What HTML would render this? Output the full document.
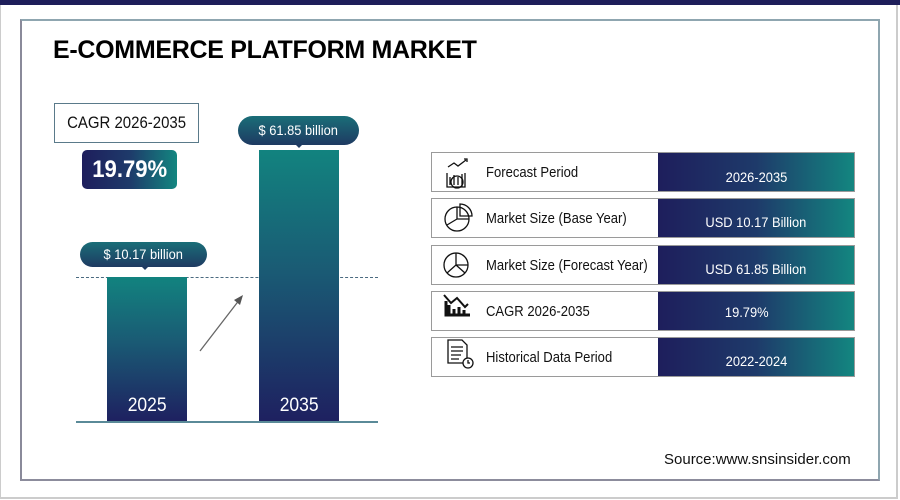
<!DOCTYPE html>
<html><head><meta charset="utf-8"><style>
*{margin:0;padding:0;box-sizing:border-box}
body{width:900px;height:500px;background:#fff;position:relative;overflow:hidden;font-family:"Liberation Sans",Arial,sans-serif}
.a{position:absolute}
.grad{background:linear-gradient(90deg,#1e1e5c 0%,#1e3a6a 50%,#138680 100%)}
.bar{background:linear-gradient(180deg,#12837f 0%,#1a5a74 45%,#1e2060 100%)}
.pill{border-radius:13px;background:linear-gradient(180deg,#1a6e78,#1e3a62);color:#fff;font-size:14px;text-align:center}
.row{position:absolute;left:431px;width:424px;height:40px;border:1.5px solid #9a9a9a;background:#fff}
.row .lab{position:absolute;left:54px;top:12px;font-size:14.5px;color:#111;transform:scaleX(0.9);transform-origin:0 0;white-space:nowrap}
.row .val{position:absolute;left:226px;top:0;right:0;bottom:0;color:#fff;font-size:14px;text-align:center;line-height:46px;transform-origin:center}
.c{display:inline-block;transform:scaleX(0.92)}
</style></head><body>
<div class="a" style="left:0;top:0;width:900px;height:5px;background:#1e1e5a"></div>
<div class="a" style="left:0;top:5px;width:898px;height:494px;border-left:1px solid #ccc;border-right:2px solid #ccc;border-bottom:2px solid #ccc"></div>
<div class="a" style="left:20px;top:19px;width:860px;height:462px;border:2px solid #8fa6b0;border-left-color:#8a8a9a;border-bottom-color:#8c8c9c"></div>
<div class="a" style="left:53px;top:36px;font-size:25px;font-weight:bold;color:#000;letter-spacing:-0.3px">E-COMMERCE PLATFORM MARKET</div>
<div class="a" style="left:54px;top:103px;width:145px;height:40px;border:1.5px solid #5a7a8a;font-size:17px;line-height:37px;text-align:center;color:#111"><span class="c" style="transform:scaleX(0.88)">CAGR 2026-2035</span></div>
<div class="a grad" style="left:82px;top:150px;width:95px;height:39px;border-radius:5px;color:#fff;font-size:24px;font-weight:bold;text-align:center;line-height:39px"><span class="c">19.79%</span></div>
<div class="a" style="left:76px;top:277px;width:302px;border-top:1.5px dashed #4a6a80"></div>
<div class="a bar" style="left:107px;top:277px;width:80px;height:145px"></div>
<div class="a bar" style="left:259px;top:150px;width:80px;height:272px"></div>
<div class="a" style="left:107px;top:395px;width:80px;text-align:center;color:#fff;font-size:19px"><span class="c">2025</span></div>
<div class="a" style="left:259px;top:395px;width:80px;text-align:center;color:#fff;font-size:19px"><span class="c">2035</span></div>
<div class="a" style="left:76px;top:421px;width:302px;height:2px;background:#5a8a98"></div>
<div class="a pill" style="left:80px;top:242px;width:127px;height:25px;line-height:25px"><span class="c">$ 10.17 billion</span></div>
<div class="a" style="left:141px;top:266px;border:4px solid transparent;border-top-color:#1e3a62"></div>
<div class="a pill" style="left:238px;top:116px;width:121px;height:29px;line-height:29px;border-radius:15px"><span class="c">$ 61.85 billion</span></div>
<div class="a" style="left:295px;top:144px;border:4px solid transparent;border-top-color:#1e3a62"></div>
<svg class="a" style="left:0;top:0" width="900" height="500"><line x1="200" y1="351" x2="240" y2="299" stroke="#666" stroke-width="1.3"/><polygon points="243,295 234,300 240,305" fill="#555"/></svg>
<div class="row" style="top:152px"><div class="lab">Forecast Period</div><div class="val grad" style="line-height:48px"><span class="c">2026-2035</span></div></div>
<div class="row" style="top:198px"><div class="lab">Market Size (Base Year)</div><div class="val grad"><span class="c">USD 10.17 Billion</span></div></div>
<div class="row" style="top:245px"><div class="lab">Market Size (Forecast Year)</div><div class="val grad"><span class="c">USD 61.85 Billion</span></div></div>
<div class="row" style="top:291px"><div class="lab">CAGR 2026-2035</div><div class="val grad" style="line-height:40px;padding-right:18px"><span class="c">19.79%</span></div></div>
<div class="row" style="top:337px"><div class="lab">Historical Data Period</div><div class="val grad"><span class="c">2022-2024</span></div></div>
<svg class="a" style="left:440px;top:155px" width="40" height="225" fill="none" stroke="#111" stroke-width="1.3">
<path d="M7 18v14h18V18M10 22v8M14 20v10M18 22v8M22 19v13"/><circle cx="17" cy="27" r="6"/><path d="M8 12l6-4 4 3 8-6M24 4l3 0 0 3"/>
<circle cx="17" cy="64" r="12"/><path d="M17 52v12h12M17 64l-10 6M20 49a12 12 0 0 1 12 12h-12z"/>
<circle cx="16" cy="110" r="12"/><path d="M16 98v12l-9 8M16 110l9 8M16 110h12"/>
<path d="M6 146v14h24M9 150v10M14 154v6M19 152v8M24 155v5" stroke-width="3"/><path d="M4 140l7 8 6-5 8 9 3-3" stroke-width="2"/>
<path d="M8 185h14l5 5v18H8z M11 192h12M11 196h12M11 200h10M11 204h8"/><circle cx="28" cy="208" r="5" fill="#fff"/><path d="M28 205v3h2"/>
</svg>
<div class="a" style="left:664px;top:451px;font-size:15px;color:#111">Source:www.snsinsider.com</div>
</body></html>
